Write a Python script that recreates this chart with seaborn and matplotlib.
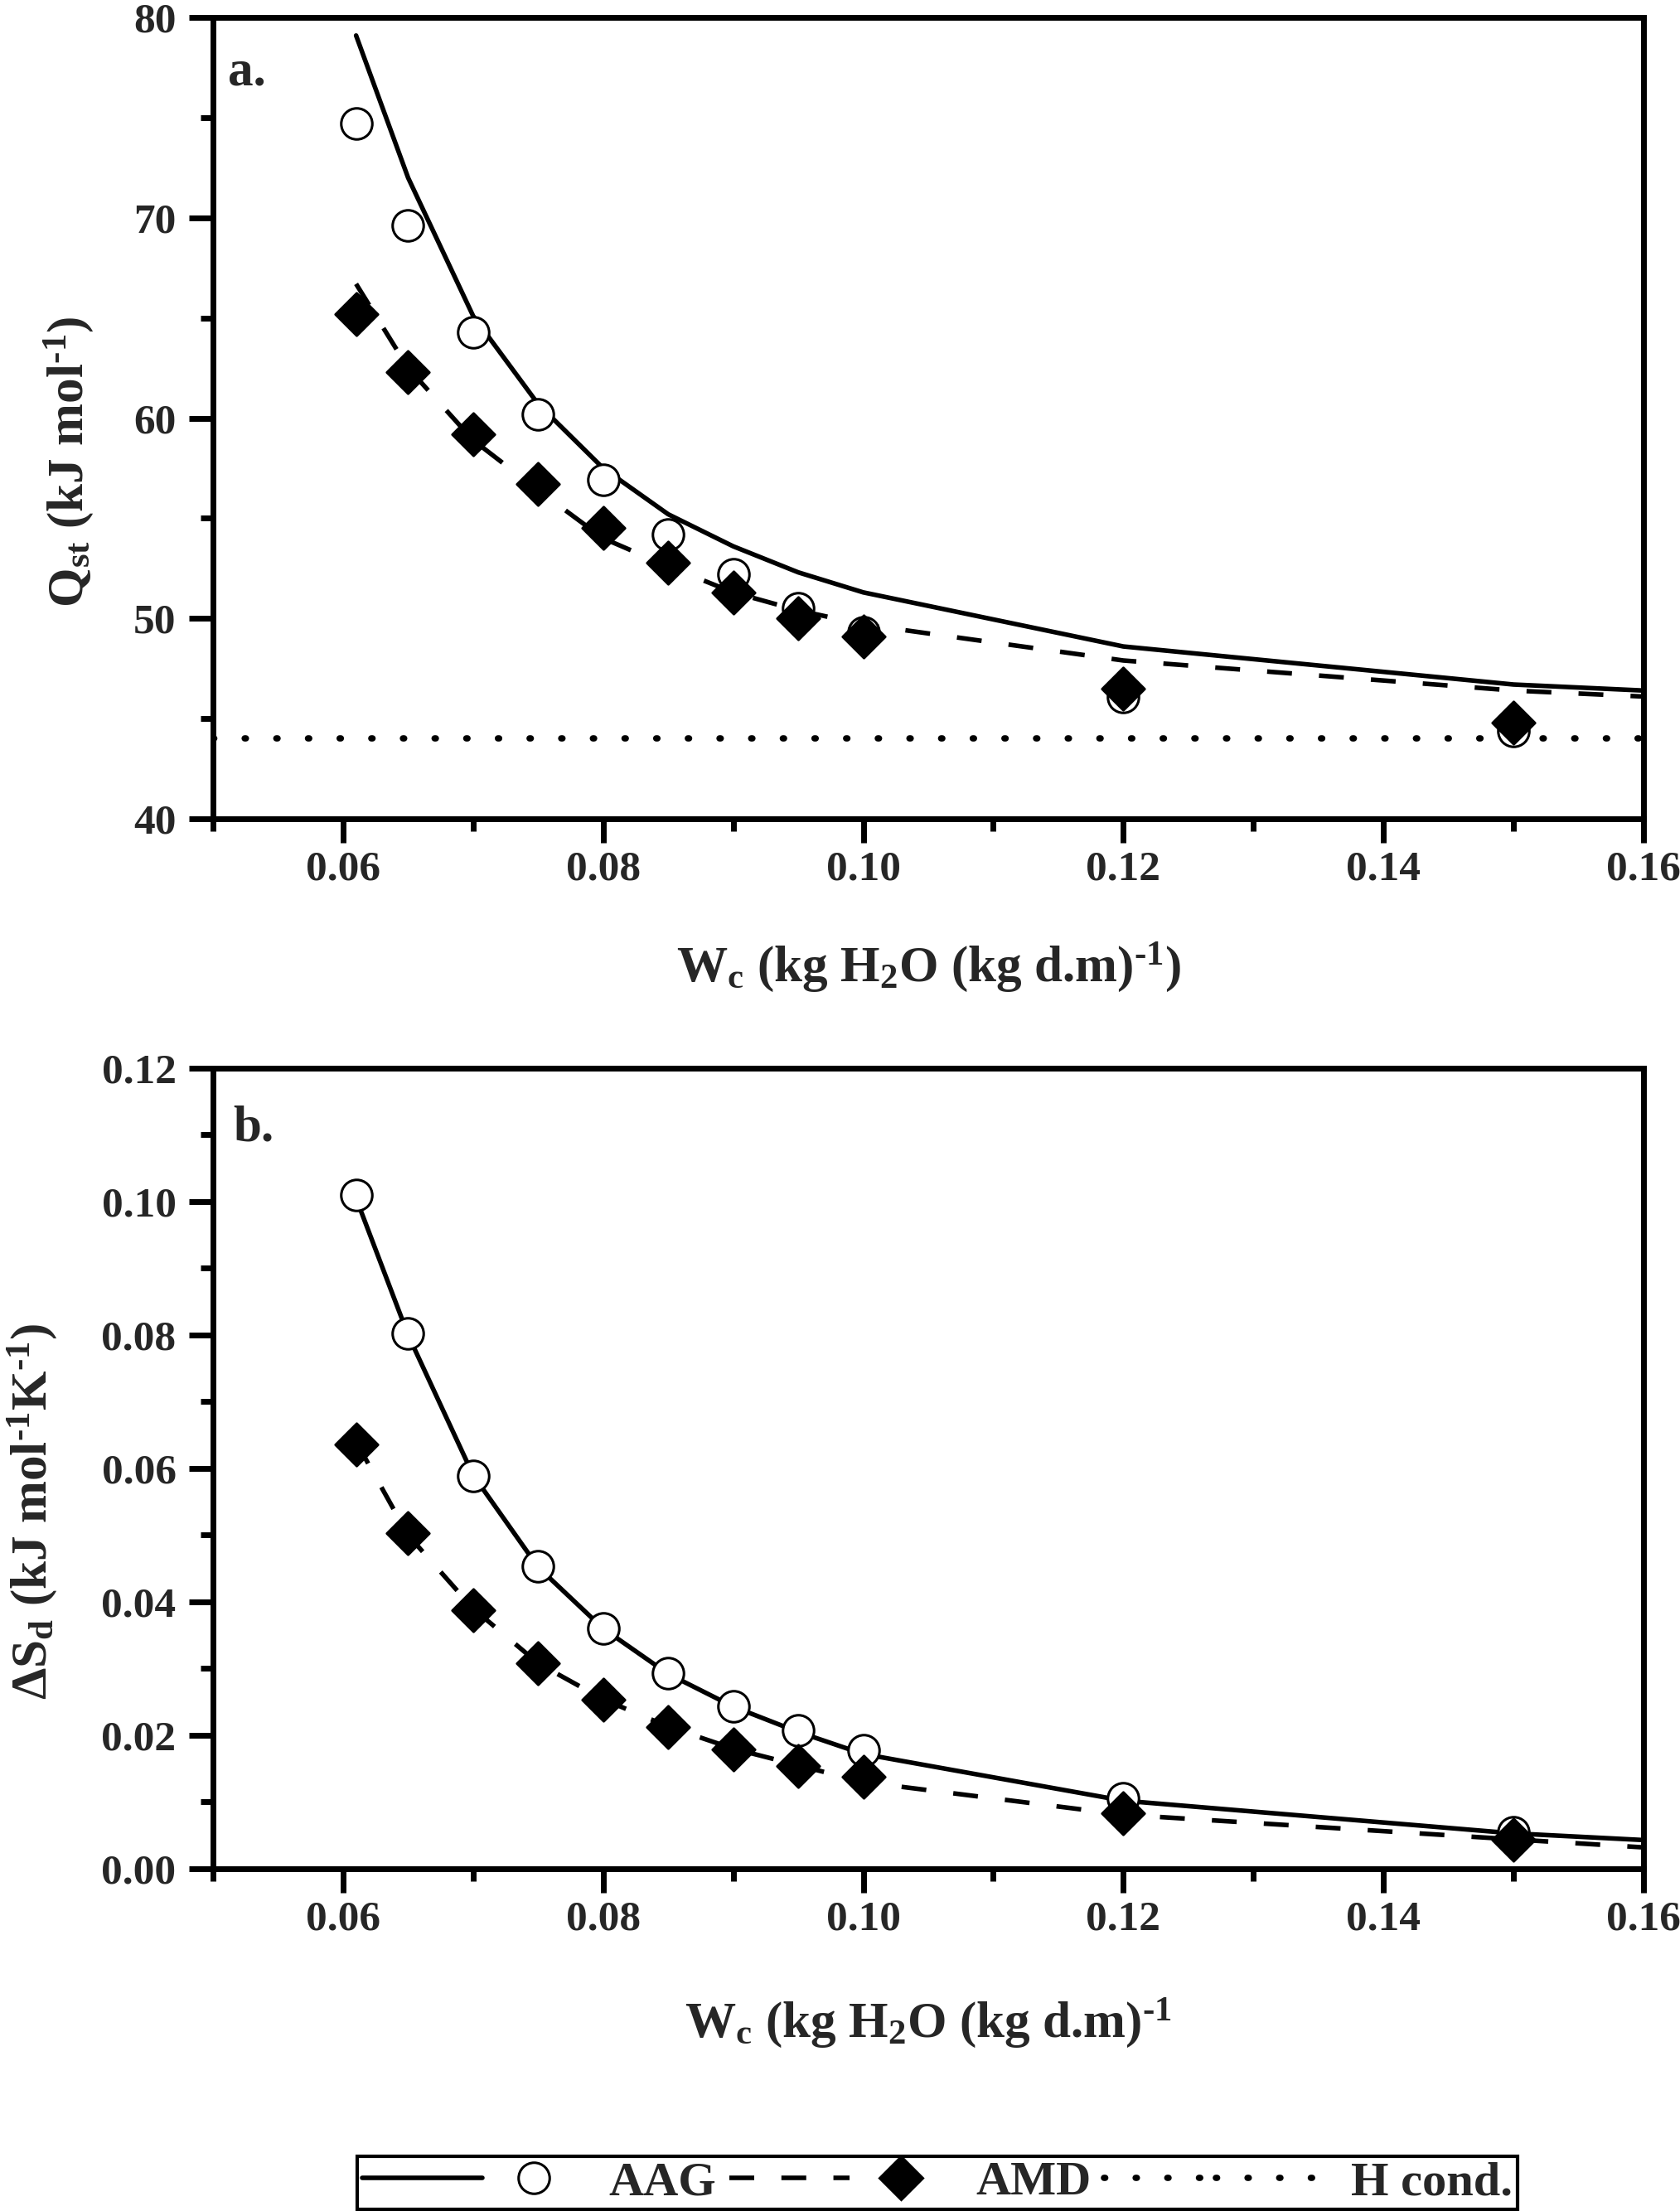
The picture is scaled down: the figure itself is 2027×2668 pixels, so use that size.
"""
plot.py - isosteric heat (Qst) and differential entropy (dSd) vs moisture
for AAG and AMD samples, two stacked panels with a shared legend box.
"""

import matplotlib
matplotlib.use('Agg')
import matplotlib.pyplot as plt
from matplotlib.lines import Line2D
from matplotlib.legend_handler import HandlerTuple
from matplotlib.ticker import MultipleLocator, FormatStrFormatter
import seaborn as sns

# ============================================================
# DATA
# ============================================================
W = [0.061, 0.065, 0.070, 0.075, 0.080, 0.085, 0.090, 0.095, 0.100, 0.120, 0.150]
W_FIT = [0.061, 0.065, 0.070, 0.075, 0.080, 0.085, 0.090, 0.095, 0.100, 0.120, 0.150, 0.160]

# panel a: Qst (kJ/mol)
QST_AAG = [74.7, 69.6, 64.3, 60.2, 56.9, 54.2, 52.2, 50.5, 49.3, 46.1, 44.4]
QST_AMD = [65.2, 62.3, 59.2, 56.7, 54.5, 52.8, 51.3, 50.0, 49.1, 46.5, 44.8]
QST_AAG_FIT = [79.1, 72.0, 65.1, 60.7, 57.5, 55.2, 53.6, 52.3, 51.3, 48.6, 46.7, 46.4]
QST_AMD_FIT = [66.7, 62.5, 58.9, 56.4, 54.0, 52.6, 51.3, 50.4, 49.7, 47.9, 46.4, 46.1]
H_COND = 44.0

# panel b: differential entropy (kJ/mol/K)
SD_AAG = [0.1010, 0.0802, 0.0589, 0.0453, 0.0360, 0.0293, 0.0244, 0.0208, 0.0178, 0.0106, 0.0055]
SD_AMD = [0.0636, 0.0503, 0.0388, 0.0308, 0.0254, 0.0213, 0.0179, 0.0154, 0.0138, 0.0083, 0.0043]
SD_AAG_FIT = [0.1005, 0.0800, 0.0590, 0.0452, 0.0360, 0.0292, 0.0243, 0.0205, 0.0172, 0.0102, 0.0053, 0.0043]
SD_AMD_FIT = [0.0640, 0.0500, 0.0390, 0.0308, 0.0254, 0.0213, 0.0180, 0.0155, 0.0130, 0.0081, 0.0044, 0.0032]

LEGEND_LABELS = ['AAG', 'AMD', 'H cond.']

# ============================================================
# STYLE
# ============================================================
sns.set_theme(style='ticks')
plt.rcParams['font.family'] = ['Liberation Serif', 'DejaVu Serif']
plt.rcParams['font.weight'] = 'bold'
plt.rcParams['mathtext.fontset'] = 'custom'
plt.rcParams['mathtext.rm'] = 'Liberation Serif:bold'
plt.rcParams['mathtext.it'] = 'Liberation Serif:bold'
plt.rcParams['mathtext.bf'] = 'Liberation Serif:bold'
plt.rcParams['mathtext.default'] = 'rm'

LW = 4.0
SOLID = '-'
DASHED = (0, (5.4, 5.9))
DOTTED = (0, (0.2, 4.8))
CIRCLE_S = 729
DIAMOND_S = 680

# plain hyphen in the exponent, as in the original figure
INV = r'$^{\text{-1}}$'
XLABEL = 'W$_c$ (kg H$_2$O (kg d.m)' + INV + ')'


def style_axes(ax, ylim, ymajor, yminor, yfmt):
    ax.set_xlim(0.05, 0.16)
    ax.set_ylim(*ylim)
    ax.xaxis.set_major_locator(MultipleLocator(0.02))
    ax.xaxis.set_minor_locator(MultipleLocator(0.01))
    ax.xaxis.set_major_formatter(FormatStrFormatter('%.2f'))
    ax.yaxis.set_major_locator(MultipleLocator(ymajor))
    ax.yaxis.set_minor_locator(MultipleLocator(yminor))
    ax.yaxis.set_major_formatter(FormatStrFormatter(yfmt))
    for sp in ax.spines.values():
        sp.set_linewidth(5)
        sp.set_color('black')
    ax.tick_params(which='both', direction='out', width=5, color='black',
                   top=False, right=False, labelsize=37)
    ax.tick_params(which='major', length=21)
    ax.tick_params(which='minor', length=11)
    ax.tick_params(axis='x', which='major', pad=7)
    ax.tick_params(axis='y', which='major', pad=11)


def draw_panel(ax, y_aag, y_amd, fit_aag, fit_amd):
    sns.lineplot(x=W_FIT, y=fit_aag, color='black', linewidth=LW,
                 linestyle=SOLID, ax=ax, zorder=2)
    sns.lineplot(x=W_FIT, y=fit_amd, color='black', linewidth=LW,
                 linestyle=DASHED, ax=ax, zorder=2)
    sns.scatterplot(x=W, y=y_aag, marker='o', s=CIRCLE_S, color='black',
                    facecolor='white', edgecolor='black', linewidth=2.2,
                    ax=ax, zorder=3)
    sns.scatterplot(x=W, y=y_amd, marker='D', s=DIAMOND_S, color='black',
                    facecolor='black', edgecolor='black', linewidth=2.2,
                    ax=ax, zorder=4)


# ============================================================
# FIGURE
# ============================================================
fig = plt.figure(figsize=(20.27, 26.68), dpi=100)
ax_a = fig.add_axes([0.1268, 0.6297, 0.8515, 0.3624])
ax_b = fig.add_axes([0.1268, 0.1548, 0.8515, 0.3621])

# --- panel a ---
draw_panel(ax_a, QST_AAG, QST_AMD, QST_AAG_FIT, QST_AMD_FIT)
ax_a.axhline(H_COND, color='black', linewidth=5.5, linestyle=DOTTED,
             dash_capstyle='round', zorder=1)
style_axes(ax_a, (40, 80), 10, 5, '%d')
ax_a.set_xlabel(XLABEL, fontsize=44, fontweight='bold')
ax_a.set_ylabel('Q$_{st}$ (kJ mol' + INV + ')', fontsize=44, fontweight='bold')
ax_a.xaxis.set_label_coords(0.5, -0.152)
ax_a.yaxis.set_label_coords(-0.082, 0.445)
ax_a.text(0.0104, 0.916, 'a.', transform=ax_a.transAxes, fontsize=44,
          fontweight='bold', va='baseline', ha='left')

# --- panel b ---
draw_panel(ax_b, SD_AAG, SD_AMD, SD_AAG_FIT, SD_AMD_FIT)
style_axes(ax_b, (0, 0.12), 0.02, 0.01, '%.2f')
ax_b.set_xlabel('W$_c$ (kg H$_2$O (kg d.m)' + INV, fontsize=44, fontweight='bold')
ax_b.set_ylabel('\u0394S$_d$ (kJ mol' + INV + 'K' + INV + ')',
                fontsize=44, fontweight='bold')
ax_b.xaxis.set_label_coords(0.5, -0.160)
ax_b.yaxis.set_label_coords(-0.108, 0.446)
ax_b.text(0.0139, 0.909, 'b.', transform=ax_b.transAxes, fontsize=44,
          fontweight='bold', va='baseline', ha='left')

for ax in (ax_a, ax_b):
    leg = ax.get_legend()
    if leg is not None:
        leg.remove()

# ============================================================
# LEGEND (line and marker side by side, Origin style)
# ============================================================
solid_h = Line2D([], [], color='black', linewidth=LW, linestyle=SOLID)
circle_h = Line2D([], [], color='black', linestyle='none', marker='o',
                  markersize=27, markerfacecolor='white', markeredgewidth=2.2)
dash_h = Line2D([], [], color='black', linewidth=LW, linestyle=DASHED)
diamond_h = Line2D([], [], color='black', linestyle='none', marker='D',
                   markersize=26, markerfacecolor='black', markeredgewidth=2.2)
dot_h = Line2D([], [], color='black', linewidth=5.5, linestyle=DOTTED,
               dash_capstyle='round')

leg = fig.legend(
    [(solid_h, circle_h), (dash_h, diamond_h), (dot_h, dot_h)],
    LEGEND_LABELS,
    handler_map={tuple: HandlerTuple(ndivide=None, pad=-0.19)},
    loc='lower left', bbox_to_anchor=(431 / 2027, 2 / 2668),
    bbox_transform=fig.transFigure, borderaxespad=0,
    ncol=3, prop={'weight': 'bold', 'size': 42},
    handlelength=4.8, handletextpad=0.3, columnspacing=0.27,
    borderpad=0.1, frameon=True, fancybox=False, framealpha=1,
    edgecolor='black')
leg.get_frame().set_linewidth(3)

fig.savefig('out.png', dpi=100, facecolor='white')
plt.close(fig)
print("[INFO] Saved out.png")
